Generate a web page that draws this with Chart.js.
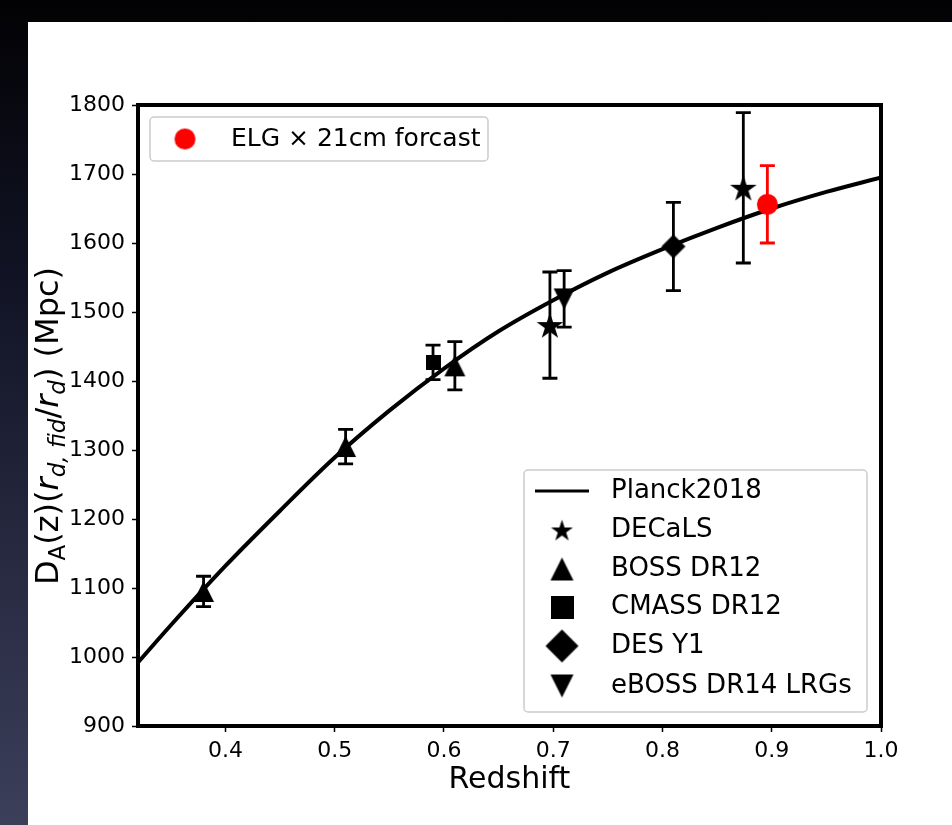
<!DOCTYPE html>
<html>
<head>
<meta charset="utf-8">
<script src="https://cdn.jsdelivr.net/npm/chart.js@4.4.1/dist/chart.umd.min.js"></script>
<style>
  html, body { margin: 0; padding: 0; width: 952px; height: 825px; overflow: hidden; background: #000; }
  #frame { position: absolute; left: 0; top: 0; width: 952px; height: 825px;
           background: linear-gradient(to bottom, #020204 0%, #121426 35%, #3b3f5a 100%); }
  #panel { position: absolute; left: 28px; top: 22px; width: 924px; height: 803px; background: #fff; }
  canvas { display: block; }
</style>
</head>
<body>
<div id="frame"></div>
<div id="panel"><canvas id="chart" width="924" height="803" style="width:924px;height:803px"></canvas></div>
<script>
// Planck 2018 angular diameter distance curve
const planckZ  = [0.32, 0.35, 0.40, 0.45, 0.50, 0.55, 0.60, 0.65, 0.70, 0.75, 0.80, 0.85, 0.90, 0.95, 1.00];
const planckDA = [ 992, 1046, 1132, 1212, 1289, 1357, 1418, 1472, 1517, 1557, 1591, 1622, 1650, 1674, 1695];

// BAO measurements: redshift, D_A and 1-sigma error
const decalsZ = [0.697, 0.874];
const decalsDA = [1481, 1680];
const decalsErr = [77, 109];

const bossZ = [0.38, 0.51, 0.61];
const bossDA = [1095, 1305, 1422];
const bossErr = [22, 25, 35];

const cmassZ = [0.59];
const cmassDA = [1427];
const cmassErr = [25];

const desZ = [0.81];
const desDA = [1595];
const desErr = [64];

const ebossZ = [0.71];
const ebossDA = [1519];
const ebossErr = [41];

// forecast point
const elgZ = [0.896];
const elgDA = [1656];
const elgErr = [56];

const xTicks = [0.4, 0.5, 0.6, 0.7, 0.8, 0.9, 1.0];
const yTicks = [900, 1000, 1100, 1200, 1300, 1400, 1500, 1600, 1700, 1800];

const FONT = "'DejaVu Sans', 'Liberation Sans', sans-serif";
const RED = '#ff0000';

// ---- marker sprites ----
function sprite(w, h, draw) {
  const c = document.createElement('canvas');
  c.width = w; c.height = h;
  const g = c.getContext('2d');
  draw(g, w, h);
  return c;
}
function starPath(g, cx, cy, R) {
  const r = R * 0.381966;
  g.beginPath();
  for (let i = 0; i < 10; i++) {
    const a = -Math.PI / 2 + i * Math.PI / 5;
    const rr = i % 2 === 0 ? R : r;
    const px = cx + rr * Math.cos(a), py = cy + rr * Math.sin(a);
    i === 0 ? g.moveTo(px, py) : g.lineTo(px, py);
  }
  g.closePath();
}
function makeStar(R, color) {
  const s = Math.ceil(2 * R + 2);
  return sprite(s, s, (g, w, h) => { g.fillStyle = color; starPath(g, w / 2, h / 2 + R * 0.1, R); g.fill(); });
}
function makeTri(size, up, color) {
  const s = size + 2;
  return sprite(s, s, (g, w, h) => {
    g.fillStyle = color; g.beginPath();
    const l = 1, r = w - 1, t = 1, b = h - 1;
    if (up) { g.moveTo(w / 2, t); g.lineTo(r, b); g.lineTo(l, b); }
    else { g.moveTo(l, t); g.lineTo(r, t); g.lineTo(w / 2, b); }
    g.closePath(); g.fill();
  });
}
function makeSquare(size, color) {
  return sprite(size, size, (g, w, h) => { g.fillStyle = color; g.fillRect(0, 0, w, h); });
}
function makeDiamond(size, color) {
  const s = size + 2;
  return sprite(s, s, (g, w, h) => {
    g.fillStyle = color; g.beginPath();
    g.moveTo(w / 2, 1); g.lineTo(w - 1, h / 2); g.lineTo(w / 2, h - 1); g.lineTo(1, h / 2);
    g.closePath(); g.fill();
  });
}
function makeCircle(r, color) {
  const s = Math.ceil(2 * r + 2);
  return sprite(s, s, (g, w, h) => { g.fillStyle = color; g.beginPath(); g.arc(w / 2, h / 2, r, 0, Math.PI * 2); g.fill(); });
}

const pts = (zs, ds) => zs.map((z, i) => ({ x: z, y: ds[i] }));

const markerSet = [
  { label: 'DECaLS',          z: decalsZ, d: decalsDA, e: decalsErr, style: makeStar(14, '#000'), color: '#000' },
  { label: 'BOSS DR12',       z: bossZ,   d: bossDA,   e: bossErr,   style: makeTri(21, true, '#000'), color: '#000' },
  { label: 'CMASS DR12',      z: cmassZ,  d: cmassDA,  e: cmassErr,  style: makeSquare(15, '#000'), color: '#000' },
  { label: 'DES Y1',          z: desZ,    d: desDA,    e: desErr,    style: makeDiamond(24, '#000'), color: '#000' },
  { label: 'eBOSS DR14 LRGs', z: ebossZ,  d: ebossDA,  e: ebossErr,  style: makeTri(21, false, '#000'), color: '#000' },
  { label: 'ELG × 21cm forcast', z: elgZ, d: elgDA,    e: elgErr,    style: makeCircle(10.5, RED), color: RED }
];

const datasets = [{
  type: 'line',
  label: 'Planck2018',
  data: pts(planckZ, planckDA),
  borderColor: '#000',
  borderWidth: 4,
  pointRadius: 0,
  fill: false,
  cubicInterpolationMode: 'monotone',
  order: 10
}].concat(markerSet.map((m, i) => ({
  type: 'scatter',
  label: m.label,
  data: pts(m.z, m.d),
  pointStyle: m.style,
  pointRadius: 10,
  borderWidth: 0,
  backgroundColor: m.color,
  order: 5 - i
})));

// error bars with caps, drawn just after the curve
const errorBars = {
  id: 'errorBars',
  afterDatasetDraw(chart, args) {
    if (args.meta.type !== 'line') return;
    const g = chart.ctx, xs = chart.scales.x, ys = chart.scales.y;
    g.save();
    g.lineCap = 'butt';
    markerSet.forEach(m => {
      g.strokeStyle = m.color;
      g.lineWidth = 2.8;
      m.z.forEach((z, i) => {
        const x = xs.getPixelForValue(z);
        const yt = ys.getPixelForValue(m.d[i] + m.e[i]);
        const yb = ys.getPixelForValue(m.d[i] - m.e[i]);
        g.beginPath();
        g.moveTo(x, yt); g.lineTo(x, yb);
        g.moveTo(x - 7.5, yt); g.lineTo(x + 7.5, yt);
        g.moveTo(x - 7.5, yb); g.lineTo(x + 7.5, yb);
        g.stroke();
      });
    });
    g.restore();
  }
};

// thick box around the plotting area
const frame = {
  id: 'frame',
  afterDatasetsDraw(chart) {
    const a = chart.chartArea, g = chart.ctx;
    g.save();
    g.strokeStyle = '#000';
    g.lineWidth = 4;
    g.strokeRect(a.left, a.top, a.right - a.left, a.bottom - a.top);
    g.restore();
  }
};

function roundBox(g, x, y, w, h, r) {
  g.save();
  g.beginPath();
  g.moveTo(x + r, y);
  g.arcTo(x + w, y, x + w, y + h, r);
  g.arcTo(x + w, y + h, x, y + h, r);
  g.arcTo(x, y + h, x, y, r);
  g.arcTo(x, y, x + w, y, r);
  g.closePath();
  g.fillStyle = 'rgba(255,255,255,0.8)';
  g.fill();
  g.strokeStyle = '#cccccc';
  g.lineWidth = 1.5;
  g.stroke();
  g.restore();
}

const legendSprites = {
  'DECaLS': makeStar(11.5, '#000'),
  'BOSS DR12': makeTri(23, true, '#000'),
  'CMASS DR12': makeSquare(23, '#000'),
  'DES Y1': makeDiamond(33, '#000'),
  'eBOSS DR14 LRGs': makeTri(23, false, '#000')
};

// two legend boxes and the y-axis title with subscripts
const annotations = {
  id: 'annotations',
  afterDraw(chart) {
    const g = chart.ctx;
    g.save();
    g.textBaseline = 'middle';
    g.textAlign = 'left';
    g.font = '25px ' + FONT;

    // forecast legend (upper left)
    roundBox(g, 122, 95, 338, 44, 4);
    const c = markerSet[5].style;
    g.drawImage(c, 157 - c.width / 2, 117 - c.height / 2);
    g.fillStyle = '#000';
    g.fillText(markerSet[5].label, 203, 117);

    // measurement legend (lower right)
    g.font = '26px ' + FONT;
    roundBox(g, 496, 448, 343, 242, 4);
    const rows = [469, 508, 547, 585, 624, 664];
    g.fillStyle = '#000';
    g.strokeStyle = '#000'; g.lineWidth = 3;
    g.beginPath(); g.moveTo(507, rows[0]); g.lineTo(561, rows[0]); g.stroke();
    g.fillText('Planck2018', 583, rows[0]);
    markerSet.slice(0, 5).forEach((m, i) => {
      const s = legendSprites[m.label];
      g.drawImage(s, 534 - s.width / 2, rows[i + 1] - s.height / 2);
      g.fillText(m.label, 583, rows[i + 1]);
    });

    // y axis title
    const big = 32, small = 23;
    const parts = [
      { t: 'D', s: big, it: false, dy: 0 },
      { t: 'A', s: small, it: false, dy: 7 },
      { t: '(z)(', s: big, it: false, dy: 0 },
      { t: 'r', s: big, it: true, dy: 0 },
      { t: 'd, fid', s: small, it: true, dy: 7 },
      { t: '/', s: big, it: false, dy: 0 },
      { t: 'r', s: big, it: true, dy: 0 },
      { t: 'd', s: small, it: true, dy: 7 },
      { t: ')', s: big, it: false, dy: 0 },
      { t: ' (Mpc)', s: big, it: false, dy: 0 }
    ];
    const fontOf = p => (p.it ? 'italic ' : '') + p.s + 'px ' + FONT;
    let total = 0;
    parts.forEach(p => { g.font = fontOf(p); p.w = g.measureText(p.t).width; total += p.w; });
    g.fillStyle = '#000';
    g.translate(30, 404);
    g.rotate(-Math.PI / 2);
    g.textBaseline = 'alphabetic';
    let x = -total / 2;
    parts.forEach(p => { g.font = fontOf(p); g.fillText(p.t, x, p.dy); x += p.w; });
    g.restore();
  }
};

Chart.defaults.font.family = FONT;

new Chart(document.getElementById('chart'), {
  type: 'scatter',
  data: { datasets },
  options: {
    responsive: false,
    animation: false,
    devicePixelRatio: 1,
    events: [],
    layout: { padding: { left: 0, right: 71, top: 83, bottom: 23 } },
    plugins: { legend: { display: false }, tooltip: { enabled: false }, title: { display: false } },
    scales: {
      x: {
        type: 'linear', min: 0.32, max: 1.0,
        afterBuildTicks: s => { s.ticks = xTicks.map(v => ({ value: v })); },
        afterFit: s => { s.height = 76; },
        ticks: { color: '#000', font: { size: 22 }, padding: 6, maxRotation: 0, autoSkip: false,
                 callback: v => Number(v).toFixed(1) },
        grid: { drawOnChartArea: false, drawTicks: true, tickLength: 6, tickWidth: 1.5, tickColor: '#000' },
        border: { display: false },
        title: { display: true, text: 'Redshift', color: '#000', font: { size: 30 }, padding: { top: 2 } }
      },
      y: {
        type: 'linear', min: 900, max: 1800,
        afterBuildTicks: s => { s.ticks = yTicks.map(v => ({ value: v })); },
        afterFit: s => { s.width = 110; },
        ticks: { color: '#000', font: { size: 22 }, padding: 7, autoSkip: false,
                 callback: v => String(v) },
        grid: { drawOnChartArea: false, drawTicks: true, tickLength: 6, tickWidth: 1.5, tickColor: '#000' },
        border: { display: false }
      }
    }
  },
  plugins: [errorBars, frame, annotations]
});
</script>
</body>
</html>
